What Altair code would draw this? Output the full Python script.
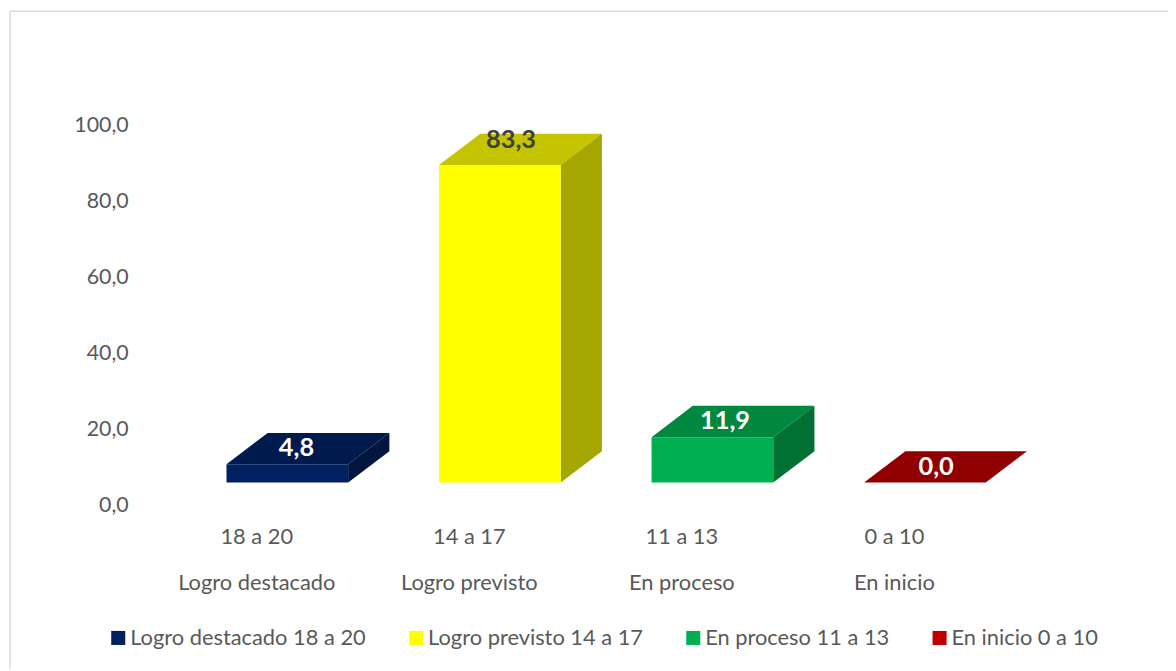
import altair as alt
import pandas as pd

levels = ["Logro destacado", "Logro previsto", "En proceso", "En inicio"]
ranges = ["18 a 20", "14 a 17", "11 a 13", "0 a 10"]
values = [4.8, 83.3, 11.9, 0.0]
value_text = ["4,8", "83,3", "11,9", "0,0"]
front_colors = ["#002060", "#ffff00", "#00b050", "#c00000"]
top_colors = ["#001a4d", "#c4c400", "#00883e", "#900000"]
side_colors = ["#00163f", "#a6a600", "#007033", "#7c0000"]
label_colors = ["#ffffff", "#404040", "#ffffff", "#ffffff"]
label_nudge = [0.0, 2.4, 0.0, 0.0]
label_shift = [-2.0, 0.0, 1.5, 0.0]

FONT = "Lato"
GREY = "#595959"
PX_X = 214.0
PX_Y = 3.83
BASE = 23.5 / PX_Y
BAR_W = 122.5 / PX_X
DEPTH_X = 41.5 / PX_X
DEPTH_Y = 31.5 / PX_Y
starts = [0.0, 1.0, 2.0, 3.0]

x_scale = alt.Scale(domain=[(135 - 228) / PX_X, (1176 - 228) / PX_X], range=[0, 1041], nice=False, zero=False)
y_scale = alt.Scale(domain=[0, 499 / PX_Y], range=[499, 0], nice=False, zero=False)
y_axis = alt.Axis(
    values=[0, 20, 40, 60, 80, 100], title=None, domain=False, ticks=False, grid=False,
    labelExpr="replace(format(datum.value,'.1f'),'.',',')",
    labelFont=FONT, labelFontSize=21.5, labelColor=GREY, labelPadding=6)

legend_names = [f"{a} {b}" for a, b in zip(levels, ranges)]
front_rows, face_rows, label_rows = [], [], []
for i, v in enumerate(values):
    x0 = starts[i]
    x1 = x0 + BAR_W
    top = BASE + v * 1.002
    front_rows.append(dict(x=x0, x2=x1, y=BASE, y2=top, name=legend_names[i]))
    for px, lo, hi in [(x0, top, top), (x0 + DEPTH_X, top, top + DEPTH_Y),
                       (x1, top, top + DEPTH_Y), (x1 + DEPTH_X, top + DEPTH_Y, top + DEPTH_Y)]:
        face_rows.append(dict(face=f"t{i}", col=top_colors[i], x=px, y=lo, y2=hi))
    if v > 0:
        for px, lo, hi in [(x1, BASE, top), (x1 + DEPTH_X, BASE + DEPTH_Y, top + DEPTH_Y)]:
            face_rows.append(dict(face=f"s{i}", col=side_colors[i], x=px, y=lo, y2=hi))
    label_rows.append(dict(x=x0 + (72.5 + label_shift[i]) / PX_X, y=top + 16 / PX_Y + label_nudge[i],
                           text=value_text[i], col=label_colors[i],
                           cat_x=x0 + 30.5 / PX_X, r=ranges[i], l=levels[i]))

front = pd.DataFrame(front_rows)
faces = pd.DataFrame(face_rows)
labels = pd.DataFrame(label_rows)

X = alt.X("x:Q", scale=x_scale, axis=None)
Y = alt.Y("y:Q", scale=y_scale, axis=y_axis, stack=None)

frame_top = alt.Chart(pd.DataFrame({"a": [0]})).mark_rule(color="#d9d9d9", strokeWidth=1.5).encode(
    x=alt.value(-125), x2=alt.value(1041), y=alt.value(1))
frame_left = alt.Chart(pd.DataFrame({"a": [0]})).mark_rule(color="#d9d9d9", strokeWidth=1.5).encode(
    x=alt.value(-125), y=alt.value(1), y2=alt.value(663))

front_layer = alt.Chart(front).mark_rect(opacity=1).encode(
    x=X, x2="x2:Q", y=Y, y2="y2:Q",
    color=alt.Color("name:N", scale=alt.Scale(domain=legend_names, range=front_colors),
                    legend=alt.Legend(
                        orient="none", legendX=-27, legendY=621, direction="horizontal", columns=4,
                        title=None, symbolType="square", symbolSize=200, symbolStrokeWidth=0,
                        symbolOpacity=1, labelFont=FONT, labelFontSize=22, labelColor=GREY,
                        labelOffset=1, columnPadding=39, labelLimit=400)),
)

face_layer = alt.Chart(faces).mark_area(opacity=1, interpolate="linear").encode(
    x=X, y=Y, y2="y2:Q",
    fill=alt.Fill("col:N", scale=None, legend=None), detail="face:N")

value_layer = alt.Chart(labels).mark_text(font=FONT, fontSize=25.5, fontWeight="bold").encode(
    x=X, y=Y, text="text:N",
    fill=alt.Fill("col:N", scale=None, legend=None))

cat1 = alt.Chart(labels).mark_text(font=FONT, fontSize=22, color=GREY).encode(
    x=alt.X("cat_x:Q", scale=x_scale, axis=None), y=alt.value(530), text="r:N")
cat2 = alt.Chart(labels).mark_text(font=FONT, fontSize=22, color=GREY).encode(
    x=alt.X("cat_x:Q", scale=x_scale, axis=None), y=alt.value(577), text="l:N")

chart = alt.layer(frame_top, frame_left, face_layer, front_layer, value_layer, cat1, cat2).properties(
    width=1041, height=499,
    padding={"left": 127, "top": 0, "right": 0, "bottom": 164},
    autosize=alt.AutoSizeParams(type="none"),
    background="white",
).configure_view(stroke=None)

chart.save("out.html", embed_options={"renderer": "svg", "actions": False})
